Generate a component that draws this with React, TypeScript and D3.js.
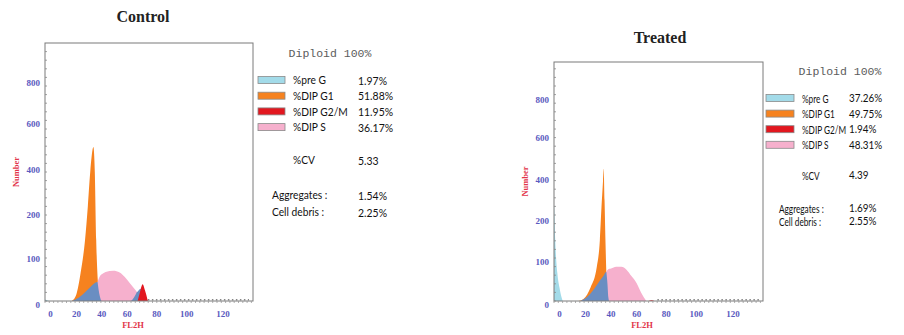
import React from 'react';
import * as d3 from 'd3';

// axis ticks as printed on the two histograms
const channelTicks = [0, 20, 40, 60, 80, 100, 120];
const countTicks = [0, 100, 200, 400, 600, 800];
// where the printed ticks sit, as a share of the plot width / height
const channelTickPos = [0.026, 0.151, 0.273, 0.396, 0.537, 0.681, 0.856];
const countTickPos = [0, 0.175, 0.346, 0.52, 0.696, 0.855];

const legendLabels = ['%pre G', '%DIP G1', '%DIP G2/M', '%DIP S'];
const legendColors = ['#a3dbe9', '#f6821f', '#e2171f', '#f6b0cd'];
const overlapColor = '#6a8ec2';

// Control: [channel, count]
const controlPreG: [number, number][] = [[-4.8, 4], [-3, 2], [-1, 0]];
const controlG1: [number, number][] = [
  [16.5, 0], [20, 15], [23.3, 62], [26.8, 136], [29, 223], [30.9, 377],
  [33.4, 487], [34.5, 377], [35.6, 136], [37, 40], [38, 0]
];
const controlOverlap: [number, number][] = [
  [16.5, 0], [22, 8], [27, 20], [31, 31], [36.5, 42], [42, 40], [50, 32],
  [58, 26], [64, 21], [66.5, 20], [69, 27], [71, 22], [73, 0]
];
// S phase: [channel, lower, upper]
const controlS: [number, number, number][] = [
  [36.7, 42, 42], [37.5, 25, 49], [38.5, 10, 55], [40, 0, 59], [43, 0, 64],
  [49, 0, 67], [54, 0, 63], [58, 0, 53], [62, 0, 38], [64.5, 8, 28], [66.5, 20, 20]
];
const controlG2: [number, number][] = [
  [67, 0], [68.5, 18], [70.4, 37], [72, 24], [74, 0]
];
const controlValues = ['1.97%', '51.88%', '11.95%', '36.17%'];
const controlCV = '5.33';
const controlAggregates = '1.54%';
const controlDebris = '2.25%';

// Treated
const treatedPreG: [number, number][] = [
  [-4.8, 300], [-4, 250], [-3.2, 145], [-1.6, 67], [0, 33], [1.5, 10], [2.5, 0]
];
const treatedG1: [number, number][] = [
  [14.4, 0], [18.4, 5], [24, 33], [28.8, 81], [31.2, 146], [32.5, 254],
  [33.7, 381], [34.2, 438], [34.9, 286], [35.6, 146], [36.3, 69], [37.5, 0]
];
const treatedOverlap: [number, number][] = [
  [16, 0], [22, 12], [27, 30], [31, 48], [34, 60], [36.3, 70], [38, 55], [38.6, 0]
];
const treatedS: [number, number, number][] = [
  [36.3, 70, 70], [37.2, 40, 74], [37.8, 10, 76], [38.6, 0, 77], [40, 0, 78],
  [44, 0, 82], [48, 0, 82], [52, 0, 75], [56, 0, 59], [59.8, 0, 43],
  [63, 0, 20], [66.5, 0, 0]
];
const treatedG2: [number, number][] = [[68, 0], [70, 2], [72, 0]];
const treatedValues = ['37.26%', '49.75%', '1.94%', '48.31%'];
const treatedCV = '4.39';
const treatedAggregates = '1.69%';
const treatedDebris = '2.55%';

type Pt = [number, number];
type SPt = [number, number, number];

interface PanelProps {
  id: string;
  title: string;
  x: number; y: number; w: number; h: number;
  titleX: number; titleY: number;
  preG: Pt[]; g1: Pt[]; overlap: Pt[]; s: SPt[]; g2: Pt[];
}

const tickFont = "'Liberation Serif', 'Times New Roman', serif";

function Histogram(p: PanelProps) {
  const x = d3.scaleLinear().domain(channelTicks).range(channelTickPos.map(f => f * p.w));
  const y = d3.scaleLinear().domain(countTicks).range(countTickPos.map(f => p.h * (1 - f)));

  const area = d3.area<Pt>()
    .x(d => x(d[0]))
    .y0(y(0))
    .y1(d => y(d[1]))
    .curve(d3.curveMonotoneX);
  const band = d3.area<SPt>()
    .x(d => x(d[0]))
    .y0(d => y(d[1]))
    .y1(d => y(d[2]))
    .curve(d3.curveMonotoneX);

  const minorY = d3.range(p.h, 0, -8.6);
  const minorX = d3.range(0, p.w, 4.3);

  return (
    <g transform={`translate(${p.x},${p.y})`}>
      <text x={p.titleX - p.x} y={p.titleY - p.y} textAnchor="middle"
        fontFamily={tickFont} fontWeight="bold" fontSize={16} fill="#222">{p.title}</text>
      <defs>
        <clipPath id={`clip-${p.id}`}><rect x={0} y={0} width={p.w} height={p.h} /></clipPath>
      </defs>
      <g clipPath={`url(#clip-${p.id})`}>
        <path d={area(p.preG) || ''} fill={legendColors[0]} />
        <path d={area(p.g1) || ''} fill={legendColors[1]} />
        <path d={area(p.overlap) || ''} fill={overlapColor} />
        <path d={band(p.s) || ''} fill={legendColors[3]} />
        <path d={area(p.g2) || ''} fill={legendColors[2]} />
      </g>
      <rect x={0} y={0} width={p.w} height={p.h} fill="none" stroke="#7a7a7a" strokeWidth={1} />
      <line x1={x(74)} x2={p.w - 4} y1={p.h - 1.2} y2={p.h - 1.2}
        stroke="#555" strokeWidth={1} strokeDasharray="1.5 2.5" />
      {minorY.map((v, i) => (
        <line key={'my' + i} x1={0} x2={2} y1={v} y2={v} stroke="#888" strokeWidth={0.8} />
      ))}
      {minorX.map((v, i) => (
        <line key={'mx' + i} x1={v} x2={v} y1={p.h} y2={p.h + 2} stroke="#999" strokeWidth={0.8} />
      ))}
      {countTicks.map(t => (
        <text key={'yt' + t} x={-5} y={y(t) + (t === 0 ? 7 : 6)} textAnchor="end"
          fontFamily={tickFont} fontWeight="bold" fontSize={9} fill="#5a5ac0">{t}</text>
      ))}
      {channelTicks.map(t => (
        <text key={'xt' + t} x={x(t)} y={p.h + 16} textAnchor="middle"
          fontFamily={tickFont} fontWeight="bold" fontSize={9} fill="#5a5ac0">{t}</text>
      ))}
      <text x={88} y={p.h + 27} textAnchor="middle" fontFamily={tickFont}
        fontWeight="bold" fontSize={8.5} fill="#e2344a">FL2H</text>
      <text transform={`translate(-29,${p.h / 2}) rotate(-90)`} textAnchor="middle"
        dominantBaseline="central" fontFamily={tickFont} fontWeight="bold" fontSize={8.5}
        fill="#e2344a">Number</text>
    </g>
  );
}

interface LegendProps {
  swX: number; swW: number; rowY0: number; gap: number;
  labelX: number; valueX: number; headX: number; headY: number;
  cvY: number; aggX: number; aggY: number; debrisY: number;
  squeeze: number; valueSqueeze: number;
  values: string[]; cv: string; aggregates: string; debris: string;
}

const legendFont = "Lato, 'Open Sans', sans-serif";

function Legend(l: LegendProps) {
  const row = d3.scaleLinear().domain([0, 1]).range([l.rowY0, l.rowY0 + l.gap]);
  const txt = (x: number, y: number, s: string, sx: number) => (
    <text transform={`translate(${x},${y}) scale(${sx},1)`} dominantBaseline="central"
      fontFamily={legendFont} fontSize={11} fill="#111">{s}</text>
  );
  return (
    <g>
      <text x={l.headX} y={l.headY} textAnchor="middle" fontFamily="'Liberation Mono', 'DejaVu Sans Mono', monospace"
        fontSize={11.5} fill="#5c5c5c">Diploid 100%</text>
      {legendLabels.map((lab, i) => (
        <g key={lab}>
          <rect x={l.swX} y={row(i) - 3.5} width={l.swW} height={7}
            fill={legendColors[i]} stroke="#8a8a8a" strokeWidth={0.8} />
          {txt(l.labelX, row(i), lab, l.squeeze)}
          {txt(l.valueX, row(i), l.values[i], l.valueSqueeze)}
        </g>
      ))}
      {txt(l.labelX, l.cvY, '%CV', l.squeeze)}
      {txt(l.valueX, l.cvY, l.cv, l.valueSqueeze)}
      {txt(l.aggX, l.aggY, 'Aggregates :', l.squeeze)}
      {txt(l.valueX, l.aggY, l.aggregates, l.valueSqueeze)}
      {txt(l.aggX, l.debrisY, 'Cell debris :', l.squeeze)}
      {txt(l.valueX, l.debrisY, l.debris, l.valueSqueeze)}
    </g>
  );
}

export default function App() {
  return (
    <svg width={904} height={335} style={{ position: 'absolute', left: 0, top: 0, background: '#fff' }}>
      <rect width={904} height={335} fill="#fff" />
      <Histogram id="control" title="Control" x={45} y={43} w={208} h={258} titleX={143} titleY={22}
        preG={controlPreG} g1={controlG1} overlap={controlOverlap} s={controlS} g2={controlG2} />
      <Legend swX={258} swW={27} rowY0={80} gap={15.7} labelX={293} valueX={358} headX={330} headY={57}
        cvY={160} aggX={272} aggY={195} debrisY={212} squeeze={0.93} valueSqueeze={0.95}
        values={controlValues} cv={controlCV} aggregates={controlAggregates} debris={controlDebris} />
      <Histogram id="treated" title="Treated" x={554} y={62} w={209} h={239} titleX={660} titleY={43}
        preG={treatedPreG} g1={treatedG1} overlap={treatedOverlap} s={treatedS} g2={treatedG2} />
      <Legend swX={766} swW={28} rowY0={98} gap={15.6} labelX={802} valueX={849} headX={840} headY={75}
        cvY={175} aggX={779} aggY={208} debrisY={221} squeeze={0.75} valueSqueeze={0.9}
        values={treatedValues} cv={treatedCV} aggregates={treatedAggregates} debris={treatedDebris} />
    </svg>
  );
}
